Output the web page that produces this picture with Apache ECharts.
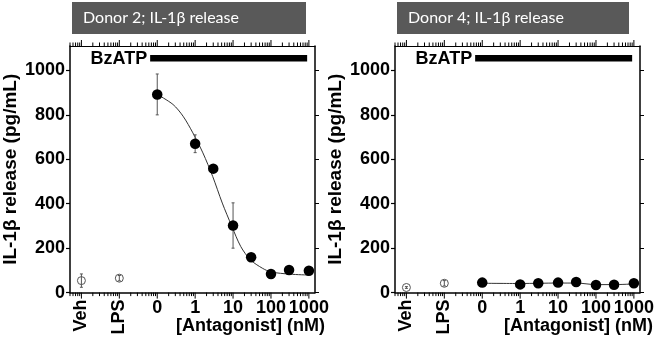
<!DOCTYPE html>
<html><head><meta charset="utf-8">
<script src="https://cdn.jsdelivr.net/npm/echarts@6/dist/echarts.min.js"></script>
<style>html,body{margin:0;padding:0;background:#fff}#c{width:657px;height:364px}</style>
</head><body><div id="c"></div>
<script>
// ---- data ----
const tickValues = [0.001, 0.01, 0.1, 1, 10, 100, 1000];
const tickLabels = ['Veh', 'LPS', '0', '1', '10', '100', '1000'];
const yTicks = [0, 200, 400, 600, 800, 1000];
const ctrlX = [0.001, 0.01];            // Veh, LPS positions
const concX = [0.1, 1, 3, 10, 30, 100, 300, 1000]; // 0 nM plotted at the "0" position

const d2CtrlMean = [54, 65];
const d2CtrlErr = [30, 12];
const d2Mean = [892, 670, 558, 302, 159, 84, 102, 98];
const d2Err = [92, 40, 8, 102, 8, 5, 5, 5];
const d2CurveX = [0.1, 0.26, 0.48, 0.87, 1.6, 2.9, 5.2, 9.3, 16, 29, 59, 100, 320, 1000];
const d2CurveY = [892, 847, 794, 719, 629, 523, 403, 298, 207, 147, 110, 93, 83, 79];

const d4CtrlMean = [23, 42];
const d4CtrlErr = [4, 12];
const d4Mean = [45, 37, 42, 45, 48, 34, 35, 42];
const d4Err = [3, 3, 3, 3, 3, 3, 3, 3];
const d4CurveX = [0.1, 1, 3, 10, 30, 100, 300, 1000];
const d4CurveY = [42, 41, 42, 43, 43, 36, 36, 39];

const bzatpX = [0.065, 900];
const bzatpY = [1040, 1070];
const titles = ['Donor 2; IL-1\u03b2 release', 'Donor 4; IL-1\u03b2 release'];
const yName = 'IL-1\u03b2 release (pg/mL)';
const xName = '[Antagonist] (nM)';

// ---- config ----
const XMIN = 0.0005, XMAX = 1450, YMIN = 0, YMAX = 1110;
const FONT = '"Liberation Sans", Arial, sans-serif';
const grids = [
  {left: 70, top: 46, width: 245, height: 246.6},
  {left: 395, top: 46, width: 245, height: 246.6}
];

function labelIndex(v) {
  for (let i = 0; i < tickValues.length; i++) {
    if (Math.abs(Math.log10(v) - Math.log10(tickValues[i])) < 0.01) return i;
  }
  return -1;
}

// minor/major tick positions for log axis
const axisTicks = [];
for (let n = -4; n <= 3; n++) {
  for (let k = 1; k <= 9; k++) {
    const v = k * Math.pow(10, n);
    if (v >= XMIN * 0.999 && v <= XMAX) {
      axisTicks.push([v, k === 1 ? 1 : 0, 0]);
      axisTicks.push([v, k === 1 ? 1 : 0, 1]);
    }
  }
}

const lbl = {color: '#000', fontFamily: FONT, fontWeight: 'bold', fontSize: 18};
const xAxes = [], yAxes = [], series = [];
grids.forEach((g, gi) => {
  const base = gi * 3;
  xAxes.push({
    type: 'log', logBase: 10, gridIndex: gi, position: 'bottom', min: XMIN, max: XMAX,
    axisLine: {show: true, lineStyle: {color: '#000', width: 1.5}},
    axisTick: {show: false}, splitLine: {show: false}, minorTick: {show: false},
    axisLabel: Object.assign({
      customValues: tickValues.slice(2), margin: 6,
      formatter: v => { const i = labelIndex(v); return i >= 2 ? tickLabels[i] : ''; }
    }, lbl)
  });
  xAxes.push({
    type: 'log', logBase: 10, gridIndex: gi, position: 'bottom', min: XMIN, max: XMAX,
    axisLine: {show: false}, axisTick: {show: false}, splitLine: {show: false},
    axisLabel: Object.assign({
      customValues: tickValues.slice(0, 2), margin: 7, rotate: 90,
      formatter: v => { const i = labelIndex(v); return (i === 0 || i === 1) ? tickLabels[i] : ''; }
    }, lbl)
  });
  xAxes.push({
    type: 'log', logBase: 10, gridIndex: gi, position: 'top', min: XMIN, max: XMAX,
    axisLine: {show: true, lineStyle: {color: '#000', width: 1.2}},
    axisTick: {show: false}, axisLabel: {show: false}, splitLine: {show: false}
  });
  yAxes.push({
    type: 'value', gridIndex: gi, position: 'left', min: YMIN, max: YMAX,
    name: yName, nameLocation: 'middle', nameGap: 50,
    nameTextStyle: {color: '#000', fontFamily: FONT, fontWeight: 'bold', fontSize: 19},
    axisLine: {show: true, lineStyle: {color: '#000', width: 1.5}},
    axisTick: {show: true, customValues: yTicks, length: 4, lineStyle: {color: '#000', width: 1.2}},
    splitLine: {show: false},
    axisLabel: Object.assign({customValues: yTicks, margin: 5, formatter: v => String(v)}, lbl)
  });
  yAxes.push({
    type: 'value', gridIndex: gi, position: 'right', min: YMIN, max: YMAX,
    axisLine: {show: true, lineStyle: {color: '#000', width: 1.5}},
    axisTick: {show: true, customValues: yTicks, length: 4, lineStyle: {color: '#000', width: 1}},
    splitLine: {show: false}, axisLabel: {show: false}
  });

  const xi = base, yi = gi * 2;
  const ctrlMean = gi === 0 ? d2CtrlMean : d4CtrlMean;
  const ctrlErr = gi === 0 ? d2CtrlErr : d4CtrlErr;
  const mean = gi === 0 ? d2Mean : d4Mean;
  const err = gi === 0 ? d2Err : d4Err;
  const cx = gi === 0 ? d2CurveX : d4CurveX;
  const cy = gi === 0 ? d2CurveY : d4CurveY;

  // axis ticks (bottom & top) for log axes
  series.push({
    type: 'custom', xAxisIndex: xi, yAxisIndex: yi, silent: true, clip: false, z: 5,
    data: axisTicks,
    renderItem: (params, api) => {
      const x = api.coord([api.value(0), 500])[0];
      const cs = params.coordSys;
      const major = api.value(1) === 1;
      const top = api.value(2) === 1;
      const len = major ? 6 : 3.5;
      const y0 = top ? cs.y : cs.y + cs.height;
      const y1 = top ? y0 - len : y0 + len;
      return {type: 'line', shape: {x1: x, y1: y0, x2: x, y2: y1}, style: {stroke: '#000', lineWidth: 1}};
    }
  });

  // fitted curve
  series.push({
    type: 'line', xAxisIndex: xi, yAxisIndex: yi, z: 2, smooth: 0.3, symbol: 'none', silent: true,
    lineStyle: {color: '#333', width: 1},
    data: cx.map((x, i) => [x, cy[i]])
  });

  // control open circles
  series.push({
    type: 'scatter', xAxisIndex: xi, yAxisIndex: yi, z: 3, symbol: 'circle', symbolSize: 8, silent: true,
    itemStyle: {color: '#fff', borderColor: '#555', borderWidth: 1, opacity: 1},
    data: ctrlX.map((x, i) => [x, ctrlMean[i]])
  });

  // error bars
  const errData = ctrlX.map((x, i) => [x, ctrlMean[i] - ctrlErr[i], ctrlMean[i] + ctrlErr[i]])
    .concat(concX.map((x, i) => [x, mean[i] - err[i], mean[i] + err[i]]));
  series.push({
    type: 'custom', xAxisIndex: xi, yAxisIndex: yi, z: 4, silent: true,
    encode: {x: 0, y: [1, 2]},
    data: errData,
    renderItem: (params, api) => {
      const lo = api.coord([api.value(0), api.value(1)]);
      const hi = api.coord([api.value(0), api.value(2)]);
      const w = 1.5;
      const st = {stroke: '#555', lineWidth: 1};
      return {type: 'group', children: [
        {type: 'line', shape: {x1: lo[0], y1: lo[1], x2: hi[0], y2: hi[1]}, style: st},
        {type: 'line', shape: {x1: lo[0] - w, y1: lo[1], x2: lo[0] + w, y2: lo[1]}, style: st},
        {type: 'line', shape: {x1: hi[0] - w, y1: hi[1], x2: hi[0] + w, y2: hi[1]}, style: st}
      ]};
    }
  });

  // filled circles
  series.push({
    type: 'scatter', xAxisIndex: xi, yAxisIndex: yi, z: 6, symbol: 'circle', symbolSize: 10.5, silent: true,
    itemStyle: {color: '#000', opacity: 1},
    data: concX.map((x, i) => [x, mean[i]])
  });

  // BzATP bar and label
  series.push({
    type: 'custom', xAxisIndex: xi, yAxisIndex: yi, z: 6, silent: true,
    encode: {x: [0, 2], y: [1, 3]},
    data: [[bzatpX[0], bzatpY[0], bzatpX[1], bzatpY[1]]],
    renderItem: (params, api) => {
      const p0 = api.coord([api.value(0), api.value(1)]);
      const p1 = api.coord([api.value(2), api.value(3)]);
      return {type: 'group', children: [
        {type: 'rect', shape: {x: p0[0], y: p1[1], width: p1[0] - p0[0], height: p0[1] - p1[1]}, style: {fill: '#000'}},
        {type: 'text', x: p0[0] - 3, y: (p0[1] + p1[1]) / 2 + 1,
         style: {text: 'BzATP', align: 'right', verticalAlign: 'middle', fill: '#000',
                 font: 'bold 18px ' + FONT}}
      ]};
    }
  });
});

const graphic = [];
const headerBoxes = [[72, 2, 234, 32], [397, 2, 232, 32]];
headerBoxes.forEach((b, i) => {
  graphic.push({type: 'rect', left: b[0], top: b[1], shape: {width: b[2], height: b[3]}, style: {fill: '#595959'}, silent: true});
  graphic.push({type: 'text', x: b[0] + 11, y: b[1] + b[3] / 2, silent: true,
    style: {text: titles[i], fill: '#fff', font: '16px Lato, "Open Sans", sans-serif', verticalAlign: 'middle', align: 'left'}});
});
[[325, 326], [653, 326]].forEach(p => {
  graphic.push({type: 'text', x: p[0], y: p[1], silent: true,
    style: {text: xName, fill: '#000', font: 'bold 18px ' + FONT, align: 'right', verticalAlign: 'middle'}});
});

const chart = echarts.init(document.getElementById('c'), null, {renderer: 'canvas'});
chart.setOption({
  animation: false,
  backgroundColor: '#fff',
  grid: grids.map(g => Object.assign({containLabel: false}, g)),
  xAxis: xAxes,
  yAxis: yAxes,
  series: series,
  graphic: graphic
});
</script></body></html>
